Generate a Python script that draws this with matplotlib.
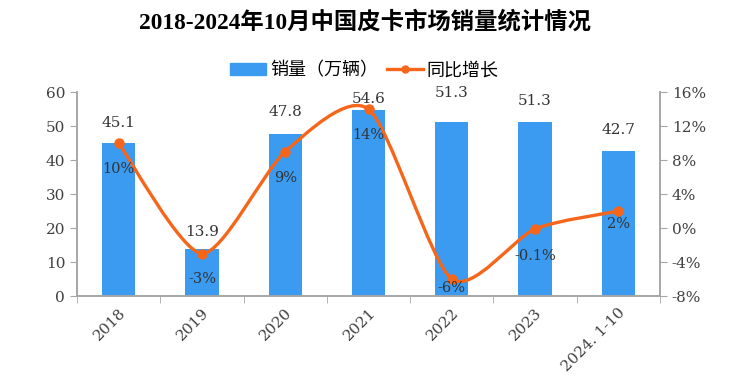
import numpy as np
import matplotlib.pyplot as plt
from matplotlib.path import Path
from matplotlib.patches import PathPatch, Patch
from matplotlib.lines import Line2D

plt.rcParams['font.family'] = ['DejaVu Serif', 'Noto Sans CJK SC']

years = ["2018", "2019", "2020", "2021", "2022", "2023", "2024. 1-10"]
sales = [45.1, 13.9, 47.8, 54.6, 51.3, 51.3, 42.7]
growth = [10, -3, 9, 14, -6, -0.1, 2]
growth_labels = ["10%", "-3%", "9%", "14%", "-6%", "-0.1%", "2%"]
# label offsets in points (above bar top / below marker)
sales_off = [14.4, 12.2, 15.8, 8.6, 20.9, 15.1, 15.1]
growth_off = [-18.7, -18, -18.7, -18.7, -6.5, -19.2, -9.1]

bar_color = "#3A9BF0"
line_color = "#F5661A"
grey = "#A6A6A6"
txt = "#333333"

fig = plt.figure(figsize=(7.29, 3.87), dpi=100)
ax = fig.add_axes([0.1056, 0.235, 0.7998, 0.527])
ax2 = ax.twinx()

x = np.arange(len(years))
ax.bar(x, sales, width=0.4, color=bar_color, zorder=2)
ax.set_xlim(-0.5, len(years) - 0.5)
ax.set_ylim(0, 60)
ax.set_yticks(range(0, 61, 10))
ax2.set_ylim(-8, 16)
ax2.set_yticks(range(-8, 17, 4))
ax2.set_yticklabels([f"{v}%" for v in range(-8, 17, 4)])

ax.set_xticks(x)
ax.set_xticklabels(years, rotation=45, ha="right", rotation_mode="anchor")
ax.set_xticks(np.arange(-0.5, len(years)), minor=True)
ax.tick_params(axis="x", which="major", length=0, pad=7)
ax.tick_params(axis="x", which="minor", length=5, color=grey)

for a in (ax, ax2):
    for s in a.spines.values():
        s.set_color(grey)
        s.set_linewidth(1.2)
    a.spines["top"].set_visible(False)
    a.tick_params(axis="y", length=5, color=grey, labelsize=11, labelcolor="#404040")
ax.tick_params(axis="x", labelsize=11, labelcolor="#404040")

# smooth line through the growth points (cubic Bezier segments)
pts = np.column_stack([x, growth]).astype(float)
verts = [tuple(pts[0])]
codes = [Path.MOVETO]
n = len(pts)
k = 1 / 8
for i in range(n - 1):
    p0 = pts[i - 1] if i > 0 else pts[i]
    p1 = pts[i]
    p2 = pts[i + 1]
    p3 = pts[i + 2] if i + 2 < n else pts[i + 1]
    verts += [tuple(p1 + (p2 - p0) * k), tuple(p2 - (p3 - p1) * k), tuple(p2)]
    codes += [Path.CURVE4] * 3
ax2.add_patch(PathPatch(Path(verts, codes), fill=False, edgecolor=line_color,
                        linewidth=2.4, zorder=3))
ax2.plot(x, growth, "o", color=line_color, markersize=6.5, zorder=4)

for i in range(n):
    ax.annotate(f"{sales[i]}", (x[i], sales[i]), xytext=(0, sales_off[i]),
                textcoords="offset points", ha="center", va="center",
                fontsize=11, color=txt)
    ax2.annotate(growth_labels[i], (x[i], growth[i]), xytext=(0, growth_off[i]),
                 textcoords="offset points", ha="center", va="center",
                 fontsize=10.5, color=txt, zorder=5)

fig.text(0.5, 0.943, "2018-2024年10月中国皮卡市场销量统计情况", ha="center",
         va="center", fontsize=16.8, fontweight="bold",
         family=['Liberation Serif', 'Noto Sans CJK SC'])

handles = [Patch(color=bar_color),
           Line2D([0], [0], color=line_color, lw=2.4, marker="o", markersize=5)]
fig.legend(handles, ["销量（万辆）", "同比增长"], loc="center", ncol=2,
           bbox_to_anchor=(0.5, 0.818), frameon=False,
           handlelength=2.0, columnspacing=0.5, handletextpad=0.2,
           prop={'family': ['Noto Sans CJK SC'], 'size': 13})

fig.savefig("out.png", dpi=100)
